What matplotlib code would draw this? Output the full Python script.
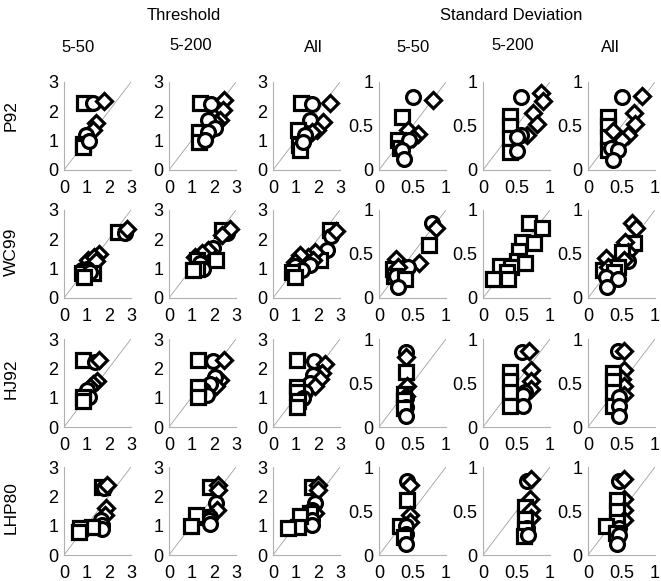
import matplotlib
matplotlib.use("Agg")
import matplotlib.pyplot as plt

plt.rcParams['font.family'] = ['Liberation Sans', 'DejaVu Sans']

groups = ["Threshold", "Standard Deviation"]
col_labels = ["5-50", "5-200", "All", "5-50", "5-200", "All"]
row_labels = ["P92", "WC99", "HJ92", "LHP80"]

# (marker, x, y)  s = square, o = circle, D = diamond
P92_thr_550 = [("s", 0.9, 2.3), ("o", 1.3, 2.3), ("D", 1.8, 2.35), ("D", 1.45, 1.6),
               ("D", 1.3, 1.35), ("o", 1.0, 1.2), ("s", 0.85, 0.9), ("s", 0.85, 0.8),
               ("o", 1.1, 1.0)]
P92_thr_5200 = [("s", 1.4, 2.27), ("o", 1.87, 2.25), ("D", 2.45, 2.4), ("D", 2.4, 2.05),
                ("D", 2.3, 1.7), ("D", 2.1, 1.6), ("o", 1.75, 1.7), ("s", 1.36, 1.3),
                ("s", 1.35, 0.97), ("o", 2.06, 1.43), ("o", 1.75, 1.3), ("o", 1.6, 1.02)]
P92_thr_all = [("s", 1.25, 2.27), ("o", 1.73, 2.25), ("D", 2.55, 2.27), ("D", 2.25, 1.65),
               ("o", 1.66, 1.7), ("D", 1.96, 1.37), ("D", 1.73, 1.3), ("s", 1.1, 1.37),
               ("s", 1.16, 0.85), ("s", 1.2, 0.68), ("o", 1.43, 1.2), ("o", 1.36, 0.97)]
P92_sd_550 = [("o", 0.51, 0.83), ("D", 0.81, 0.79), ("s", 0.34, 0.6), ("D", 0.43, 0.45),
              ("D", 0.58, 0.41), ("D", 0.5, 0.36), ("s", 0.29, 0.34), ("s", 0.31, 0.25),
              ("o", 0.45, 0.34), ("o", 0.35, 0.23), ("o", 0.37, 0.12)]
P92_sd_5200 = [("o", 0.57, 0.83), ("D", 0.86, 0.88), ("D", 0.9, 0.78), ("D", 0.74, 0.65),
               ("D", 0.8, 0.52), ("D", 0.66, 0.4), ("s", 0.4, 0.61), ("s", 0.4, 0.5),
               ("s", 0.4, 0.36), ("s", 0.4, 0.21), ("o", 0.56, 0.4), ("o", 0.51, 0.37),
               ("o", 0.51, 0.22)]
P92_sd_all = [("o", 0.5, 0.83), ("D", 0.8, 0.84), ("D", 0.68, 0.65), ("D", 0.7, 0.52),
              ("D", 0.6, 0.4), ("D", 0.5, 0.34), ("s", 0.3, 0.6), ("s", 0.3, 0.5),
              ("s", 0.3, 0.38), ("s", 0.3, 0.23), ("D", 0.38, 0.44), ("o", 0.35, 0.25),
              ("o", 0.45, 0.23), ("o", 0.38, 0.11)]

WC99_thr_550 = [("s", 2.43, 2.26), ("o", 2.75, 2.2), ("D", 2.8, 2.34), ("D", 1.09, 1.29),
                ("D", 1.58, 1.5), ("D", 1.35, 1.4), ("D", 1.45, 1.25), ("o", 1.02, 1.0),
                ("o", 0.8, 0.95), ("s", 0.79, 0.84), ("s", 1.31, 0.84), ("o", 1.18, 0.87),
                ("s", 0.9, 0.7)]
WC99_thr_5200 = [("s", 2.36, 2.32), ("o", 2.6, 2.2), ("D", 2.73, 2.35), ("D", 2.36, 2.15),
                 ("o", 1.99, 1.7), ("D", 1.76, 1.64), ("D", 1.47, 1.52), ("D", 1.15, 1.4),
                 ("s", 1.24, 1.3), ("s", 2.1, 1.3), ("o", 1.4, 1.2), ("o", 1.54, 1.0),
                 ("s", 1.24, 1.0), ("s", 1.09, 0.95)]
WC99_thr_all = [("s", 2.55, 2.32), ("o", 2.6, 2.12), ("D", 2.8, 2.28), ("o", 2.4, 1.64),
                ("s", 2.1, 1.3), ("D", 1.88, 1.58), ("D", 1.58, 1.41), ("D", 1.8, 1.3),
                ("D", 1.2, 1.45), ("D", 0.99, 1.24), ("o", 1.66, 1.13), ("o", 0.99, 1.1),
                ("o", 1.29, 0.96), ("s", 0.84, 0.9), ("s", 0.99, 0.73)]
WC99_sd_550 = [("o", 0.79, 0.85), ("D", 0.85, 0.79), ("s", 0.75, 0.6), ("D", 0.6, 0.4),
               ("o", 0.44, 0.35), ("D", 0.26, 0.44), ("s", 0.21, 0.33), ("D", 0.28, 0.35),
               ("s", 0.23, 0.25), ("o", 0.26, 0.25), ("s", 0.39, 0.22), ("o", 0.28, 0.13)]
WC99_sd_5200 = [("s", 0.68, 0.85), ("s", 0.88, 0.79), ("s", 0.58, 0.64), ("s", 0.76, 0.62),
                ("s", 0.53, 0.53), ("s", 0.5, 0.42), ("s", 0.63, 0.4), ("s", 0.25, 0.36),
                ("s", 0.42, 0.35), ("s", 0.36, 0.3), ("s", 0.15, 0.22), ("s", 0.38, 0.22)]
WC99_sd_all = [("D", 0.65, 0.85), ("D", 0.72, 0.79), ("s", 0.69, 0.62), ("D", 0.55, 0.64),
               ("D", 0.6, 0.52), ("s", 0.5, 0.52), ("o", 0.6, 0.42), ("D", 0.53, 0.43),
               ("D", 0.27, 0.46), ("s", 0.23, 0.32), ("D", 0.3, 0.35), ("s", 0.45, 0.35),
               ("s", 0.39, 0.3), ("o", 0.27, 0.24), ("o", 0.45, 0.22), ("o", 0.28, 0.13)]

HJ92_thr_550 = [("s", 0.87, 2.3), ("o", 1.39, 2.2), ("D", 1.58, 2.3), ("D", 1.46, 1.58),
                ("D", 1.3, 1.45), ("D", 1.15, 1.35), ("o", 1.04, 1.27), ("o", 1.1, 1.02),
                ("s", 0.85, 1.02), ("s", 0.85, 0.87)]
HJ92_thr_5200 = [("s", 1.31, 2.3), ("o", 1.98, 2.25), ("D", 2.46, 2.28), ("D", 2.3, 1.6),
                 ("o", 2.04, 1.71), ("D", 2.1, 1.4), ("o", 1.83, 1.45), ("o", 1.52, 1.25),
                 ("o", 1.68, 1.09), ("s", 1.31, 1.37), ("s", 1.31, 1.03)]
HJ92_thr_all = [("s", 1.06, 2.3), ("o", 1.85, 2.24), ("D", 2.33, 2.15), ("D", 2.2, 1.85),
                ("o", 1.8, 1.78), ("D", 2.1, 1.63), ("o", 1.66, 1.5), ("D", 1.88, 1.4),
                ("s", 1.06, 1.37), ("o", 1.43, 1.2), ("s", 1.06, 1.18), ("o", 1.36, 0.98),
                ("s", 1.1, 0.87), ("s", 1.06, 0.68)]
HJ92_sd_550 = [("o", 0.4, 0.85), ("D", 0.41, 0.8), ("s", 0.4, 0.63), ("D", 0.42, 0.47),
               ("s", 0.38, 0.38), ("D", 0.41, 0.35), ("o", 0.4, 0.33), ("s", 0.37, 0.31),
               ("o", 0.4, 0.23), ("s", 0.37, 0.22), ("o", 0.41, 0.13)]
HJ92_sd_5200 = [("o", 0.58, 0.85), ("D", 0.69, 0.86), ("D", 0.72, 0.65), ("D", 0.72, 0.52),
                ("D", 0.72, 0.43), ("o", 0.63, 0.4), ("o", 0.6, 0.36), ("o", 0.59, 0.24),
                ("s", 0.4, 0.63), ("s", 0.4, 0.52), ("s", 0.4, 0.4), ("s", 0.4, 0.24)]
HJ92_sd_all = [("o", 0.45, 0.86), ("D", 0.54, 0.86), ("D", 0.54, 0.65), ("D", 0.5, 0.55),
               ("D", 0.54, 0.47), ("D", 0.53, 0.36), ("s", 0.38, 0.61), ("s", 0.38, 0.52),
               ("s", 0.38, 0.4), ("s", 0.38, 0.24), ("o", 0.46, 0.34), ("o", 0.47, 0.24),
               ("o", 0.47, 0.13)]

LHP80_thr_550 = [("s", 1.69, 2.33), ("o", 1.8, 2.3), ("D", 1.94, 2.38), ("D", 1.87, 1.6),
                 ("D", 1.82, 1.35), ("o", 1.66, 1.19), ("o", 1.69, 1.02), ("o", 1.69, 0.9),
                 ("s", 1.24, 0.94), ("s", 0.72, 0.91), ("s", 0.69, 0.8)]
LHP80_thr_5200 = [("s", 1.84, 2.33), ("D", 2.21, 2.38), ("D", 2.21, 2.2), ("o", 2.1, 1.76),
                  ("D", 2.13, 1.55), ("s", 1.66, 1.29), ("o", 1.84, 1.29), ("o", 1.8, 1.2),
                  ("o", 1.84, 1.06), ("s", 1.2, 1.37), ("s", 0.97, 0.99)]
LHP80_thr_all = [("s", 1.73, 2.33), ("D", 2.03, 2.4), ("D", 2.0, 2.23), ("o", 1.9, 1.76),
                 ("o", 1.73, 1.55), ("D", 1.9, 1.42), ("s", 1.66, 1.42), ("o", 1.73, 1.19),
                 ("o", 1.76, 1.02), ("s", 1.21, 1.33), ("s", 1.13, 0.96), ("s", 0.69, 0.91)]
LHP80_sd_550 = [("o", 0.42, 0.84), ("D", 0.47, 0.8), ("s", 0.42, 0.62), ("D", 0.47, 0.46),
                ("D", 0.47, 0.38), ("s", 0.31, 0.33), ("o", 0.4, 0.33), ("o", 0.41, 0.24),
                ("s", 0.37, 0.21), ("o", 0.41, 0.12)]
LHP80_sd_5200 = [("o", 0.65, 0.84), ("D", 0.72, 0.86), ("D", 0.7, 0.64), ("s", 0.62, 0.55),
                 ("D", 0.72, 0.51), ("D", 0.72, 0.42), ("s", 0.62, 0.41), ("o", 0.65, 0.31),
                 ("s", 0.62, 0.3), ("s", 0.61, 0.22), ("o", 0.67, 0.23)]
LHP80_sd_all = [("o", 0.47, 0.84), ("D", 0.54, 0.86), ("D", 0.54, 0.64), ("s", 0.43, 0.62),
                ("D", 0.54, 0.51), ("s", 0.43, 0.5), ("D", 0.54, 0.4), ("s", 0.43, 0.38),
                ("s", 0.27, 0.33), ("o", 0.47, 0.31), ("s", 0.42, 0.25), ("o", 0.47, 0.23),
                ("o", 0.44, 0.12)]

panels = [
    [P92_thr_550, P92_thr_5200, P92_thr_all, P92_sd_550, P92_sd_5200, P92_sd_all],
    [WC99_thr_550, WC99_thr_5200, WC99_thr_all, WC99_sd_550, WC99_sd_5200, WC99_sd_all],
    [HJ92_thr_550, HJ92_thr_5200, HJ92_thr_all, HJ92_sd_550, HJ92_sd_5200, HJ92_sd_all],
    [LHP80_thr_550, LHP80_thr_5200, LHP80_thr_all, LHP80_sd_550, LHP80_sd_5200, LHP80_sd_all],
]

W, H = 661, 581
fig = plt.figure(figsize=(W / 100, H / 100), dpi=100)

lefts = [64, 169, 273, 379, 483, 588]   # px
bottoms = [170, 298, 427, 555]          # px
aw, ah = 67, 88
msize = {"s": 9.8, "o": 10, "D": 7.8}

for r, row in enumerate(panels):
    for c, pts in enumerate(row):
        ax = fig.add_axes([lefts[c] / W, 1 - bottoms[r] / H, aw / W, ah / H])
        top = 3 if c < 3 else 1
        ax.plot([0, top], [0, top], color="#a0a0a0", lw=0.6, zorder=1)
        for m, x, y in pts:
            ax.plot(x, y, marker=m, ms=msize[m], mfc="white", mec="black", mew=2.3,
                    ls="none", zorder=3, clip_on=False)
        ax.set_xlim(0, top)
        ax.set_ylim(0, top)
        if c < 3:
            ax.set_xticks([0, 1, 2, 3])
            ax.set_yticks([0, 1, 2, 3])
        else:
            ax.set_xticks([0, 0.5, 1])
            ax.set_yticks([0, 0.5, 1])
            ax.set_xticklabels(["0", "0.5", "1"])
            ax.set_yticklabels(["0", "0.5", "1"])
        for s in ["top", "right"]:
            ax.spines[s].set_visible(False)
        for s in ["left", "bottom"]:
            ax.spines[s].set_color("#b0b0b0")
            ax.spines[s].set_linewidth(0.8)
        ax.tick_params(axis="x", length=0, pad=7, labelsize=13)
        ax.tick_params(axis="y", length=0, pad=4, labelsize=13)
        ax.patch.set_alpha(0)

# headers
fig.text(184 / W, 1 - 16 / H, groups[0], ha="center", va="center", fontsize=12)
fig.text(511 / W, 1 - 16 / H, groups[1], ha="center", va="center", fontsize=12)
col_x = [78, 191, 313, 413, 513, 610]
col_y = [47, 45, 47, 47, 45, 47]
for lab, x, y in zip(col_labels, col_x, col_y):
    fig.text(x / W, 1 - y / H, lab, ha="center", va="center", fontsize=12)

row_y = [116, 252, 379, 508]
for lab, y in zip(row_labels, row_y):
    fig.text(11 / W, 1 - y / H, lab, ha="center", va="center", rotation=90, fontsize=12.5)

fig.savefig("out.png", dpi=100)
